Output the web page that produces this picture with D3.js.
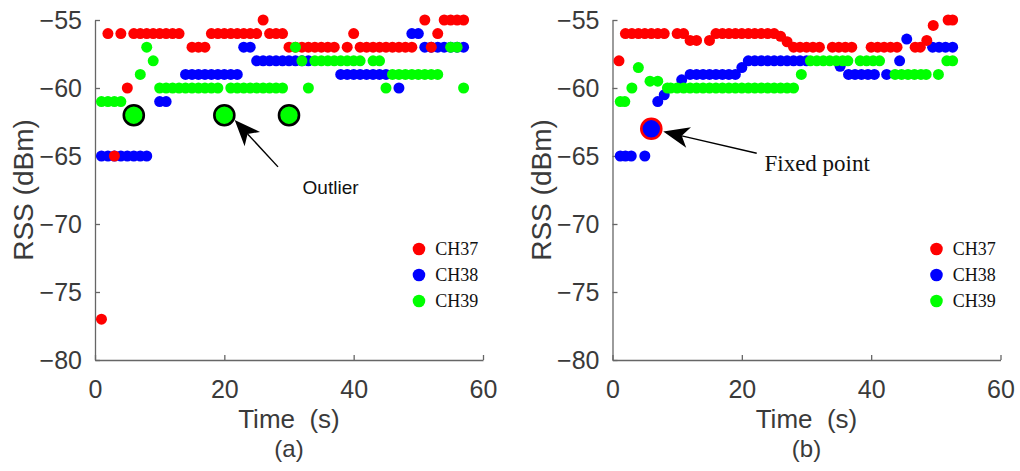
<!DOCTYPE html>
<html>
<head>
<meta charset="utf-8">
<script src="https://cdn.jsdelivr.net/npm/d3@7"></script>
<style>
  body { margin: 0; background: #fff; }
  svg { display: block; }
</style>
</head>
<body>
<svg id="chart" width="1020" height="471"></svg>
<script>
// (a) raw RSS readings, [time s, RSS dBm]
const ch37A = [[1,-77],[2,-56],[3,-65],[4,-56],[5,-60],[6,-56],[7,-56],[8,-56],[9,-56],[10,-56],[11,-56],[12,-56],[13,-56],
    [15,-57],[16,-57],[17,-57],[18,-56],[19,-56],[20,-56],[21,-56],[22,-56],[23,-56],[24,-56],[25,-56],[26,-55],[27,-56],[28,-56],[29,-56],
    [30,-57],[31,-57],[32,-57],[33,-57],[34,-57],[35,-57],[36,-57],[37,-57],[39,-57],[40,-56],
    [41,-57],[42,-57],[43,-57],[44,-57],[45,-57],[46,-57],[47,-57],[48,-57],[49,-57],
    [51,-55],[52,-57],[53,-56],[54,-55],[55,-55],[56,-55],[57,-55]]
const ch38A = [[1,-65],[2,-65],[3,-65],[4,-65],[5,-65],[6,-65],[7,-65],[8,-65],[10,-61],[11,-61],
    [14,-59],[15,-59],[16,-59],[17,-59],[18,-59],[19,-59],[20,-59],[21,-59],[22,-59],[23,-57],[24,-57],
    [25,-58],[26,-58],[27,-58],[28,-58],[29,-58],[30,-58],[31,-58],[32,-58],[33,-58],
    [38,-59],[39,-59],[40,-59],[41,-59],[42,-59],[43,-59],[44,-59],[45,-59],[47,-60],[49,-56],[50,-56],
    [51,-57],[52,-57],[53,-57],[54,-57],[55,-57],[56,-57],[57,-57]]
const ch39A = [[1,-61],[2,-61],[3,-61],[4,-61],[7,-59],[8,-57],[9,-58],
    [10,-60],[11,-60],[12,-60],[13,-60],[14,-60],[15,-60],[16,-60],[17,-60],[18,-60],[19,-60],
    [21,-60],[22,-60],[23,-60],[24,-60],[25,-60],[26,-60],[27,-60],[28,-60],[29,-60],
    [31,-57],[32,-58],[33,-60],[34,-58],[35,-58],[36,-58],[37,-58],[38,-58],[39,-58],[40,-58],[41,-58],
    [43,-58],[44,-58],[45,-60],[46,-59],[47,-59],[48,-59],[49,-59],[50,-59],[51,-59],[52,-59],[53,-59],
    [55,-57],[56,-57],[57,-60]]
const outliersA = [[6,-62],[20,-62],[30,-62]]

// (b) after fixing
const ch37B = [[1,-58],[2,-56],[3,-56],[4,-56],[5,-56],[6,-56],[7,-56],[8,-56],[10,-56],[11,-56],[12,-56.5],[13,-56.5],[15,-56.5],
    [16,-56],[17,-56],[18,-56],[19,-56],[20,-56],[21,-56],[22,-56],[23,-56],[24,-56],[25,-56],[26,-56.2],[27,-56.6],
    [28,-57],[29,-57],[30,-57],[31,-57],[32,-57],[34,-57],[35,-57],[36,-57],[37,-57],
    [40,-57],[41,-57],[42,-57],[43,-57],[44,-57],[46.8,-57],[47.6,-57],[48.6,-56.5],[49.6,-55.4],[51.9,-55],[52.6,-55]]
const ch38B = [[1.2,-65],[2,-65],[2.9,-65],[5,-65],[7,-61],[8,-60.5],[10.7,-59.4],
    [12,-59],[13,-59],[14,-59],[15,-59],[16,-59],[17,-59],[18,-59],[19,-59],[20,-58.5],
    [21,-58],[22,-58],[23,-58],[24,-58],[25,-58],[26,-58],[27,-58],[28,-58],[29,-58],[30,-58],
    [35.2,-58.4],[36.5,-59],[37.5,-59],[38.5,-59],[39.5,-59],[40.5,-59],[42.4,-59],[44.4,-58],[45.5,-56.4],
    [49.5,-57],[50.5,-57],[51.5,-57],[52.6,-57]]
const ch39B = [[1.2,-61],[1.9,-61],[3,-60],[4,-58.5],[5.8,-59.5],[7,-59.5],[8.5,-60],
    [9,-60],[10,-60],[11,-60],[12,-60],[13,-60],[14,-60],[15,-60],[16,-60],[17,-60],[18,-60],
    [19,-60],[20,-60],[21,-60],[22,-60],[23,-60],[24,-60],[25,-60],[26,-60],[27,-60],[28,-60],
    [29.2,-59],[30.6,-58],[31.6,-58],[32.6,-58],[33.6,-58],[34.6,-58],[35.6,-58],[36.4,-58],
    [38.3,-58],[39.3,-58],[40.3,-58],[41.3,-58],[43.7,-59],[44.7,-59],[45.7,-59],[46.7,-59],[47.7,-59],[48.5,-59],
    [50.4,-59],[51.7,-58],[52.6,-58]]
const fixedB = [[6,-63]]

const channels = ["CH37", "CH38", "CH39"]
const colors = {"CH37": "#ff0000", "CH38": "#0000ff", "CH39": "#00ff00"}
const xTicks = [0, 20, 40, 60]
const yTicks = [-80, -75, -70, -65, -60, -55]

const svg = d3.select("#chart")
const sans = "Liberation Sans, Arial, sans-serif"
const serif = "Liberation Serif, Times New Roman, serif"

var drawArrow = function(g, x, y, a) {
    const x1 = x(a.tip[0]), y1 = y(a.tip[1])
    const x2 = x(a.tail[0]), y2 = y(a.tail[1])
    const len = Math.hypot(x2 - x1, y2 - y1)
    const dx = (x2 - x1) / len, dy = (y2 - y1) / len
    const px = -dy, py = dx
    const L = 26, N = 19, W = 10.5
    g.append("line")
        .attr("x1", x1 + dx * N).attr("y1", y1 + dy * N)
        .attr("x2", x2).attr("y2", y2)
        .attr("stroke", "#000")
        .attr("stroke-width", 1.4)
    g.append("polygon")
        .attr("points", [
            [x1, y1],
            [x1 + dx * L + px * W, y1 + dy * L + py * W],
            [x1 + dx * N, y1 + dy * N],
            [x1 + dx * L - px * W, y1 + dy * L - py * W]
        ].map((p) => p.join(",")).join(" "))
        .attr("fill", "#000")
}

var drawPanel = function(opts) {
    const x = d3.scaleLinear().domain([0, 60]).range([opts.left, opts.left + 388])
    const y = d3.scaleLinear().domain([-80, -55]).range([360, 20])
    const g = svg.append("g")

    const yAxis = g.append("g")
        .attr("transform", `translate(${opts.left},0)`)
        .call(d3.axisLeft(y).tickValues(yTicks).tickSizeInner(-5).tickSizeOuter(0).tickPadding(13))
    const xAxis = g.append("g")
        .attr("transform", "translate(0,360)")
        .call(d3.axisBottom(x).tickValues(xTicks).tickSizeInner(-5).tickSizeOuter(0).tickPadding(20))
    ;[xAxis, yAxis].forEach((ax) => {
        ax.selectAll("path, line").attr("stroke", "#666").attr("stroke-width", 1.3)
        ax.selectAll("text").attr("fill", "#3a3a3a").style("font-family", sans).style("font-size", "25px")
    })

    g.append("text")
        .attr("transform", `translate(${opts.left - 62},${y(-67.5)}) rotate(-90)`)
        .attr("text-anchor", "middle")
        .attr("fill", "#3a3a3a")
        .style("font-family", sans).style("font-size", "28px")
        .text("RSS (dBm)")
    g.append("text")
        .attr("x", x(30)).attr("y", 428)
        .attr("text-anchor", "middle")
        .attr("fill", "#3a3a3a")
        .style("font-family", sans).style("font-size", "26px")
        .style("white-space", "pre")
        .text("Time  (s)")
    g.append("text")
        .attr("x", x(30)).attr("y", 457)
        .attr("text-anchor", "middle")
        .attr("fill", "#3a3a3a")
        .style("font-family", sans).style("font-size", "24px")
        .text(opts.tag)

    // blue first, then red, green on top
    const order = ["CH38", "CH37", "CH39"]
    order.forEach((ch) => {
        g.append("g").selectAll("circle")
            .data(opts.series[ch])
            .join("circle")
            .attr("cx", (d) => x(d[0]))
            .attr("cy", (d) => y(d[1]))
            .attr("r", 5.5)
            .attr("fill", colors[ch])
    })

    g.append("g").selectAll("circle")
        .data(opts.marked)
        .join("circle")
        .attr("cx", (d) => x(d[0]))
        .attr("cy", (d) => y(d[1]))
        .attr("r", 10)
        .attr("fill", opts.markFill)
        .attr("stroke", opts.markStroke)
        .attr("stroke-width", 2.6)

    drawArrow(g, x, y, opts.arrow)
    g.append("text")
        .attr("x", x(opts.note.at[0])).attr("y", y(opts.note.at[1]))
        .attr("fill", "#111")
        .style("font-family", opts.note.font).style("font-size", opts.note.size)
        .text(opts.note.text)

    const legend = g.append("g")
    channels.forEach((ch, i) => {
        legend.append("circle")
            .attr("cx", x(50.1)).attr("cy", 249 + i * 26)
            .attr("r", 6.3)
            .attr("fill", colors[ch])
        legend.append("text")
            .attr("x", x(52.6)).attr("y", 255 + i * 26)
            .attr("fill", "#111")
            .style("font-family", serif).style("font-size", "18px")
            .text(ch)
    })
}

drawPanel({
    left: 95,
    tag: "(a)",
    series: {"CH37": ch37A, "CH38": ch38A, "CH39": ch39A},
    marked: outliersA,
    markFill: "#00ff00",
    markStroke: "#000",
    arrow: {tip: [21.6, -62.35], tail: [28.3, -65.8]},
    note: {text: "Outlier", at: [32.1, -67.8], font: sans, size: "19px"}
})

drawPanel({
    left: 612.5,
    tag: "(b)",
    series: {"CH37": ch37B, "CH38": ch38B, "CH39": ch39B},
    marked: fixedB,
    markFill: "#0000ff",
    markStroke: "#ff0000",
    arrow: {tip: [7.85, -63.2], tail: [22.3, -64.8]},
    note: {text: "Fixed point", at: [23.5, -66.1], font: serif, size: "23px"}
})
</script>
</body>
</html>
